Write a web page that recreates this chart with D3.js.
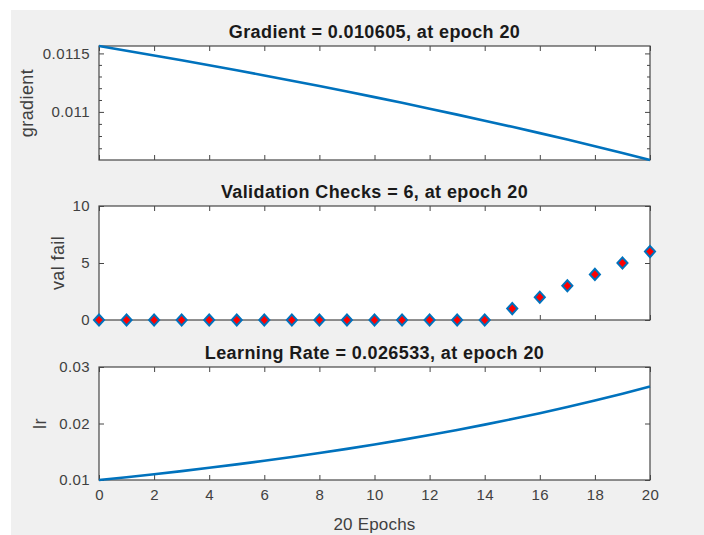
<!DOCTYPE html>
<html>
<head>
<meta charset="utf-8">
<script src="https://cdn.jsdelivr.net/npm/d3@7.9.0/dist/d3.min.js"></script>
<style>
  body { margin: 0; background: #fff; }
  text { font-family: "Liberation Sans", Arial, sans-serif; }
</style>
</head>
<body>
<svg id="chart" width="704" height="535"></svg>
<script>
// data
const epochs = d3.range(0, 21);
const gradient = [0.011565, 0.011524, 0.011482, 0.011440, 0.011397, 0.011353, 0.011309,
  0.011264, 0.011218, 0.011171, 0.011124, 0.011076, 0.011027, 0.010977, 0.010927,
  0.010876, 0.010824, 0.010771, 0.010717, 0.010662, 0.010605];
const valFail = [0, 0, 0, 0, 0, 0, 0, 0, 0, 0, 0, 0, 0, 0, 0, 1, 2, 3, 4, 5, 6];
const lr = [0.010000, 0.010500, 0.011025, 0.011576, 0.012155, 0.012763, 0.013401,
  0.014071, 0.014775, 0.015513, 0.016289, 0.017103, 0.017959, 0.018856, 0.019799,
  0.020789, 0.021829, 0.022920, 0.024066, 0.025270, 0.026533];
const xTicks = d3.range(0, 21, 2);
const gradTicks = [0.011, 0.0115];
const gradMinor = [0.0107, 0.0108, 0.0109, 0.0111, 0.0112, 0.0113, 0.0114];
const valTicks = [0, 5, 10];
const lrTicks = [0.01, 0.02, 0.03];

const blue = '#0072BD';
const axisCol = '#464646';
const textCol = '#404040';

const svg = d3.select('#chart');
svg.append('rect').attr('x', 11).attr('y', 10).attr('width', 693).attr('height', 525)
  .attr('fill', '#f0f0f0');

const x = d3.scaleLinear().domain([0, 20]).range([99, 650]);

// one axes box with inward ticks on all four sides
function panel(y, yTicks, opts) {
  const [y0, y1] = [y.range()[1], y.range()[0]];
  const g = svg.append('g');
  g.append('rect').attr('x', 99).attr('y', y0).attr('width', 551).attr('height', y1 - y0)
    .attr('fill', '#fff');

  const bottom = g.append('g').attr('transform', `translate(0,${y1})`)
    .call(d3.axisBottom(x).tickValues(xTicks).tickSize(-5).tickSizeOuter(0).tickPadding(9));
  if (!opts.xLabels) bottom.selectAll('text').remove();
  g.append('g').attr('transform', `translate(0,${y0})`)
    .call(d3.axisTop(x).tickValues(xTicks).tickSize(-5).tickSizeOuter(0).tickFormat(''));

  g.append('g').attr('transform', 'translate(99,0)')
    .call(d3.axisLeft(y).tickValues(yTicks).tickSize(-5).tickSizeOuter(0).tickPadding(9)
      .tickFormat(opts.fmt));
  g.append('g').attr('transform', 'translate(650,0)')
    .call(d3.axisRight(y).tickValues(yTicks).tickSize(-5).tickSizeOuter(0).tickFormat(''));

  if (opts.minor) {
    g.append('g').attr('transform', 'translate(99,0)')
      .call(d3.axisLeft(y).tickValues(opts.minor).tickSize(-3).tickSizeOuter(0).tickFormat(''));
    g.append('g').attr('transform', 'translate(650,0)')
      .call(d3.axisRight(y).tickValues(opts.minor).tickSize(-3).tickSizeOuter(0).tickFormat(''));
  }

  g.selectAll('.domain').remove();
  g.selectAll('.tick line').attr('stroke', axisCol);
  g.selectAll('.tick text').attr('fill', textCol).style('font-size', '15px')
    .style('letter-spacing', '0.4px')
    .style('font-family', '"Liberation Sans", Arial, sans-serif');

  g.append('rect').attr('x', 99).attr('y', y0).attr('width', 551).attr('height', y1 - y0)
    .attr('fill', 'none').attr('stroke', axisCol).attr('stroke-width', 1.2);

  g.append('text').attr('x', 374.5).attr('y', y0 - 8).attr('text-anchor', 'middle')
    .attr('font-weight', 'bold').attr('font-size', 18).attr('letter-spacing', 0.4)
    .attr('fill', '#1a1a1a').text(opts.title);

  g.append('text').attr('transform', `translate(${opts.labelX},${(y0 + y1) / 2}) rotate(-90)`)
    .attr('text-anchor', 'middle').attr('font-size', 18).attr('letter-spacing', 0.4)
    .attr('fill', textCol).text(opts.ylabel);
  return g;
}

// gradient (log axis, as in the training-state plot)
const yGrad = d3.scaleLog().domain([0.010605, 0.011565]).range([160, 46]);
const g1 = panel(yGrad, gradTicks, {
  title: 'Gradient = 0.010605, at epoch 20', ylabel: 'gradient', labelX: 33,
  fmt: d => String(d), minor: gradMinor
});
g1.append('path').datum(epochs)
  .attr('d', d3.line().x(i => x(i)).y(i => yGrad(gradient[i])))
  .attr('fill', 'none').attr('stroke', blue).attr('stroke-width', 2.6);

// validation checks
const yVal = d3.scaleLinear().domain([0, 10]).range([320, 206]);
const g2 = panel(yVal, valTicks, {
  title: 'Validation Checks = 6, at epoch 20', ylabel: 'val fail', labelX: 64,
  fmt: d => String(d)
});
const diamond = d3.symbol().type(d3.symbolDiamond2).size(72);
g2.selectAll('.mk').data(epochs).join('path').attr('class', 'mk')
  .attr('transform', i => `translate(${x(i)},${yVal(valFail[i])}) scale(0.95,1.05)`)
  .attr('d', diamond)
  .attr('fill', '#ff0000').attr('stroke', blue).attr('stroke-width', 2);

// learning rate
const yLr = d3.scaleLinear().domain([0.01, 0.03]).range([480, 367]);
const g3 = panel(yLr, lrTicks, {
  title: 'Learning Rate = 0.026533, at epoch 20', ylabel: 'lr', labelX: 46,
  fmt: d => String(d), xLabels: true
});
g3.append('path').datum(epochs)
  .attr('d', d3.line().x(i => x(i)).y(i => yLr(lr[i])))
  .attr('fill', 'none').attr('stroke', blue).attr('stroke-width', 2.6);

svg.append('text').attr('x', 374.5).attr('y', 530).attr('text-anchor', 'middle')
  .attr('font-size', 17).attr('letter-spacing', 0.2).attr('fill', textCol).text('20 Epochs');
</script>
</body>
</html>
